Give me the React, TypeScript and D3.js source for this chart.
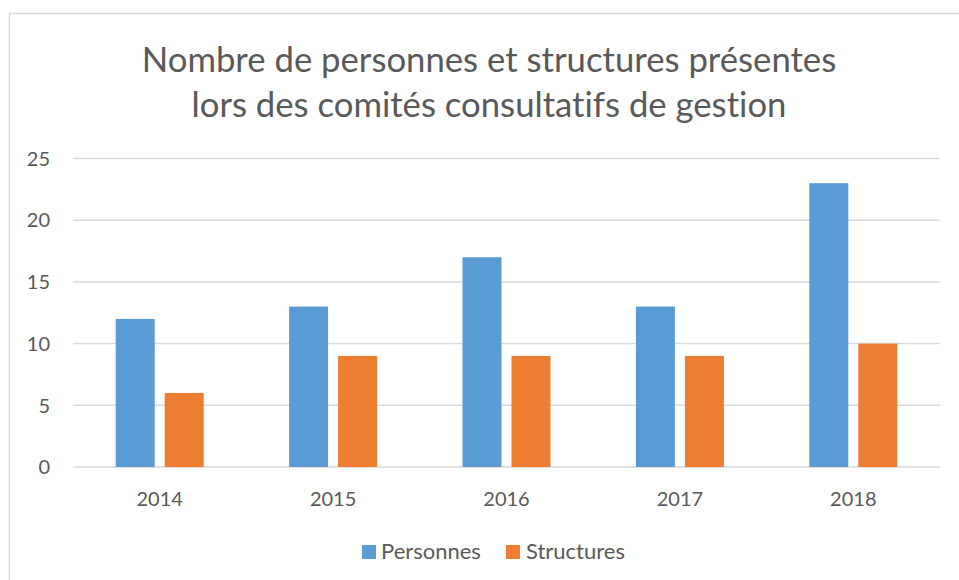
import React from "react";
import * as d3 from "d3";

const years = ["2014", "2015", "2016", "2017", "2018"];
const seriesNames = ["Personnes", "Structures"];
const personnes = [12, 13, 17, 13, 23];
const structures = [6, 9, 9, 9, 10];
const yTicks = [0, 5, 10, 15, 20, 25];
const titleLines = [
  "Nombre de personnes et structures présentes",
  "lors des comités consultatifs de gestion",
];
const colors = ["#5B9BD5", "#ED7D31"];

const FONT = "Lato, 'Open Sans', sans-serif";
const TEXT = "#595959";

export default function App() {
  const W = 959;
  const H = 580;
  const left = 73;
  const right = 940;
  const x = d3.scaleBand<string>().domain(years).range([left, right]).padding(0);
  const inner = d3
    .scaleBand<string>()
    .domain(seriesNames)
    .range([0, x.bandwidth()])
    .paddingInner(0.204)
    .paddingOuter(0.871);
  const y = d3.scaleLinear().domain([0, 25]).range([467, 158.5]);
  const values = [personnes, structures];

  return (
    <svg
      width={W}
      height={H}
      style={{
        position: "absolute",
        left: 0,
        top: 0,
        background: "#fff",
        fontVariantLigatures: "none",
        fontFeatureSettings: '"liga" 0, "clig" 0',
      }}
      fontFamily={FONT}
    >
      <rect x={9.5} y={13.5} width={970} height={600} fill="#fff" stroke="#D9D9D9" strokeWidth={1.5} />
      {titleLines.map((t, i) => (
        <text key={i} x={489} y={72 + i * 45} textAnchor="middle" fontSize={34.7} fill={TEXT}>
          {t}
        </text>
      ))}
      {yTicks.map((t) => (
        <g key={t}>
          <line x1={left} x2={right} y1={y(t)} y2={y(t)} stroke="#D9D9D9" strokeWidth={1.5} />
          <text x={50} y={y(t)} dy="0.36em" textAnchor="end" fontSize={20} fill={TEXT}>
            {t}
          </text>
        </g>
      ))}
      {years.map((yr, i) => (
        <g key={yr}>
          {seriesNames.map((s, j) => (
            <rect
              key={s}
              x={(x(yr) ?? 0) + (inner(s) ?? 0)}
              y={y(values[j][i])}
              width={inner.bandwidth()}
              height={y(0) - y(values[j][i])}
              fill={colors[j]}
            />
          ))}
          <text x={(x(yr) ?? 0) + x.bandwidth() / 2} y={506} textAnchor="middle" fontSize={20} fill={TEXT}>
            {yr}
          </text>
        </g>
      ))}
      <g>
        <rect x={362} y={545} width={14} height={14} fill={colors[0]} />
        <text x={381} y={559} fontSize={22} fill={TEXT}>{seriesNames[0]}</text>
        <rect x={506} y={545} width={14} height={14} fill={colors[1]} />
        <text x={526} y={559} fontSize={22} fill={TEXT}>{seriesNames[1]}</text>
      </g>
    </svg>
  );
}
